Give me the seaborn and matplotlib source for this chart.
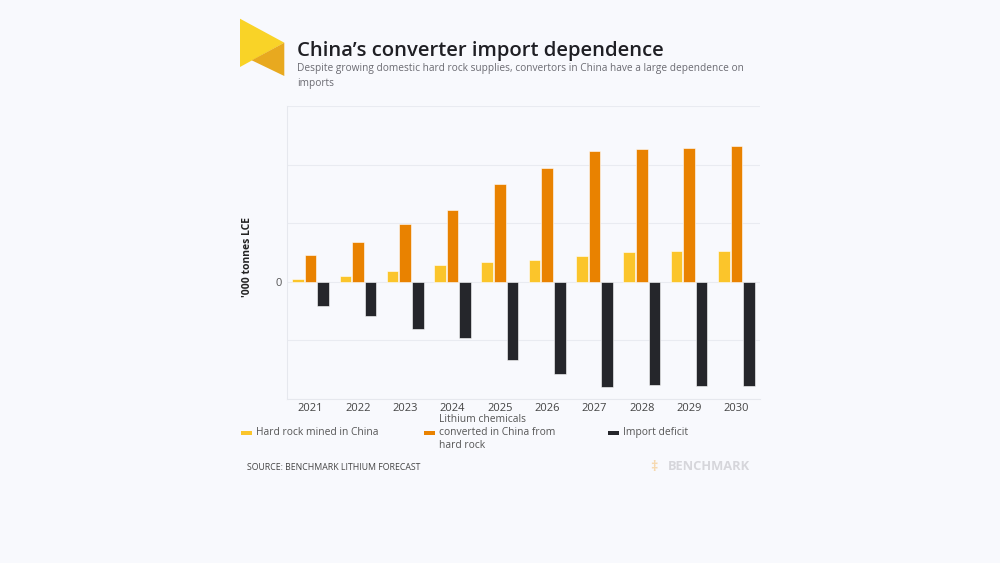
import matplotlib
matplotlib.use("Agg")
import matplotlib.pyplot as plt
import seaborn as sns
import pandas as pd
from matplotlib.patches import Polygon, Rectangle

years = ["2021", "2022", "2023", "2024", "2025", "2026", "2027", "2028", "2029", "2030"]
hard_rock = [2.6, 5.1, 9.1, 14.2, 16.8, 18.8, 21.9, 25.6, 25.9, 26.4]
converted = [23.0, 33.8, 49.7, 61.6, 83.2, 97.4, 111.6, 113.1, 114.5, 115.6]
deficit = [-20.5, -29.3, -40.3, -48.0, -66.5, -78.7, -89.8, -87.8, -88.6, -89.2]
series_names = ["Hard rock mined in China",
                "Lithium chemicals\nconverted in China from\nhard rock",
                "Import deficit"]
colors = ["#fbc52b", "#e98200", "#25262b"]

df = pd.DataFrame({
    "year": years * 3,
    "value": hard_rock + converted + deficit,
    "series": [series_names[0]] * 10 + [series_names[1]] * 10 + [series_names[2]] * 10,
})

bg = "#f8f9fd"
sns.set_theme(style="white")
plt.rcParams["font.family"] = ["Open Sans", "DejaVu Sans"]

fig = plt.figure(figsize=(10, 5.63), dpi=100, facecolor=bg)
ax = fig.add_axes([0.287, 1 - 399 / 563, 0.473, (399 - 106) / 563])
ax.set_facecolor(bg)

sns.barplot(data=df, x="year", y="value", hue="series", palette=colors,
            saturation=1, width=0.8, gap=0.08, edgecolor="#ffffff", linewidth=0.4,
            ax=ax, legend=False, zorder=3)

ax.set_ylim(-100, 150)
ax.set_yticks([-100, -50, 0, 50, 100, 150])
ax.set_yticklabels(["", "", "0", "", "", ""], color="#555555", fontsize=8)
ax.grid(axis="y", color="#e9ebf1", linewidth=0.8, zorder=0)
ax.tick_params(axis="both", length=0, pad=4)
ax.tick_params(axis="x", labelsize=8, labelcolor="#444444", pad=3)
ax.set_xlabel("")
ax.set_ylabel("")
for s in ["top", "right"]:
    ax.spines[s].set_visible(False)
for s in ["left", "bottom"]:
    ax.spines[s].set_color("#e6e8ee")
    ax.spines[s].set_linewidth(0.8)

fig.text(0.247, 1 - 257 / 563, "'000 tonnes LCE", rotation=90, ha="center", va="center",
         fontsize=7.5, fontweight="bold", color="#222222")

# Title and subtitle
fig.text(0.297, 1 - 51 / 563, "China\u2019s converter import dependence", fontsize=14.6,
         fontweight="semibold", color="#1f1f24", va="center", ha="left")
fig.text(0.297, 1 - 76 / 563,
         "Despite growing domestic hard rock supplies, convertors in China have a large dependence on\nimports",
         fontsize=7.3, color="#6b6b72", va="center", ha="left", linespacing=1.45)

# Logo
fig.add_artist(Polygon([[240 / 1000, 1 - 18.7 / 563], [284.3 / 1000, 1 - 42.7 / 563],
                        [240 / 1000, 1 - 67 / 563]], closed=True, facecolor="#f9d327",
                       edgecolor="none", transform=fig.transFigure))
fig.add_artist(Polygon([[251.7 / 1000, 1 - 60.3 / 563], [284.3 / 1000, 1 - 42.7 / 563],
                        [284.3 / 1000, 1 - 76 / 563]], closed=True, facecolor="#e8a91f",
                       edgecolor="none", transform=fig.transFigure))

# Legend
leg_x = [241, 424, 608]
for x, c, name in zip(leg_x, colors, series_names):
    fig.add_artist(Rectangle((x / 1000, 1 - 434.5 / 563), 11 / 1000, 4 / 563,
                             facecolor=c, edgecolor="none", transform=fig.transFigure))
    fig.text((x + 15) / 1000, 1 - 432.5 / 563, name, fontsize=7.4, color="#555555",
             va="center", ha="left", linespacing=1.3)

fig.text(0.247, 1 - 468 / 563, "SOURCE: BENCHMARK LITHIUM FORECAST", fontsize=6.3,
         color="#444444", va="center", ha="left")
fig.text(0.668, 1 - 467 / 563, "BENCHMARK", fontsize=9.3, fontweight="bold",
         color="#d6d6db", va="center", ha="left")
fig.text(0.650, 1 - 467 / 563, "\u2021", fontsize=10, fontweight="bold",
         color="#f6d9b0", va="center", ha="left")

fig.savefig("out.png", dpi=100, facecolor=bg)
